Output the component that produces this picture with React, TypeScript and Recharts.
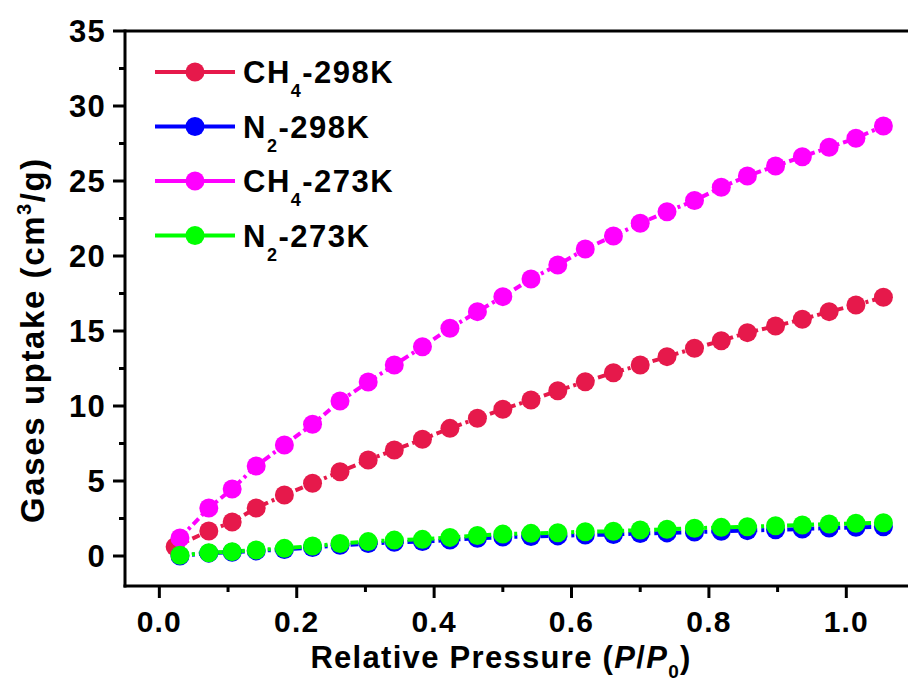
import React from 'react';
import { LineChart, Line, XAxis, YAxis, ReferenceLine, Legend } from 'recharts';

// Relative pressure (P/P0) for each point
const pressure = [0.030, 0.072, 0.106, 0.141, 0.182, 0.223, 0.263, 0.304, 0.342, 0.383, 0.423, 0.463, 0.500, 0.541, 0.580, 0.620, 0.661, 0.700, 0.739, 0.779, 0.818, 0.856, 0.897, 0.936, 0.975, 1.014, 1.054];
const pressureCH4_298 = [0.023, 0.072, 0.106, 0.141, 0.182, 0.223, 0.263, 0.304, 0.342, 0.383, 0.423, 0.463, 0.500, 0.541, 0.580, 0.620, 0.661, 0.700, 0.739, 0.779, 0.818, 0.856, 0.897, 0.936, 0.975, 1.014, 1.054];

// Uptake (cm3/g)
const ch4_298 = [0.62, 1.67, 2.27, 3.2, 4.07, 4.85, 5.62, 6.4, 7.07, 7.78, 8.51, 9.18, 9.78, 10.4, 11.02, 11.62, 12.22, 12.73, 13.29, 13.85, 14.35, 14.89, 15.33, 15.78, 16.29, 16.73, 17.25];
const n2_298 = [0.0, 0.19, 0.25, 0.34, 0.43, 0.57, 0.71, 0.83, 0.91, 0.96, 1.07, 1.18, 1.26, 1.3, 1.34, 1.4, 1.43, 1.5, 1.54, 1.6, 1.65, 1.69, 1.75, 1.8, 1.86, 1.91, 1.95];
const ch4_273 = [1.2, 3.2, 4.47, 6.0, 7.4, 8.78, 10.33, 11.6, 12.73, 13.95, 15.18, 16.29, 17.29, 18.47, 19.4, 20.47, 21.33, 22.18, 22.95, 23.7, 24.58, 25.33, 26.0, 26.62, 27.25, 27.85, 28.67];
const n2_273 = [0.05, 0.22, 0.29, 0.4, 0.51, 0.67, 0.83, 0.96, 1.06, 1.11, 1.24, 1.37, 1.46, 1.51, 1.55, 1.62, 1.65, 1.73, 1.78, 1.85, 1.91, 1.95, 2.02, 2.07, 2.13, 2.18, 2.22];

const xTicks = [0, 0.1, 0.2, 0.3, 0.4, 0.5, 0.6, 0.7, 0.8, 0.9, 1.0];
const yTicks = [0, 2.5, 5, 7.5, 10, 12.5, 15, 17.5, 20, 22.5, 25, 27.5, 30, 32.5, 35];

const seriesNames = ['CH4-298K', 'N2-298K', 'CH4-273K', 'N2-273K'];
const seriesColors = ['#E6194B', '#0000FF', '#FF00FF', '#00FF00'];

const build = (xs: number[], ys: number[]) => xs.map((p, i) => ({ p, v: ys[i] }));
const dataSets = [
  build(pressureCH4_298, ch4_298),
  build(pressure, n2_298),
  build(pressure, ch4_273),
  build(pressure, n2_273),
];

const FONT = '"Liberation Sans", Arial, sans-serif';

const XTick = (props: any) => {
  const { x, y, payload } = props;
  const v = payload.value as number;
  const major = Math.round(v * 10) % 2 === 0;
  return (
    <g>
      <line x1={x} x2={x} y1={y} y2={y + (major ? 12 : 6)} stroke="#000" strokeWidth={3} />
      {major && (
        <text x={x} y={y + 46} textAnchor="middle" fontFamily={FONT} fontWeight="bold" fontSize={30} letterSpacing={1.2} fill="#000">
          {v.toFixed(1)}
        </text>
      )}
    </g>
  );
};

const YTick = (props: any) => {
  const { x, y, payload } = props;
  const v = payload.value as number;
  const major = v % 5 === 0;
  return (
    <g>
      <line x1={x} x2={x - (major ? 12 : 6)} y1={y} y2={y} stroke="#000" strokeWidth={3} />
      {major && (
        <text x={x - 19} y={y} dy="0.36em" textAnchor="end" fontFamily={FONT} fontWeight="bold" fontSize={31} letterSpacing={1.2} fill="#000">
          {String(v)}
        </text>
      )}
    </g>
  );
};

const YTitle = () => (
  <text transform="translate(44,340) rotate(-90)" textAnchor="middle" fontFamily={FONT} fontWeight="bold" fontSize={33} letterSpacing={1.6} fill="#000">
    <tspan>Gases uptake (cm</tspan>
    <tspan dy={-13} fontSize={20}>3</tspan>
    <tspan dy={13}>/g)</tspan>
  </text>
);

const XTitle = () => (
  <text x={501} y={668} textAnchor="middle" fontFamily={FONT} fontWeight="bold" fontSize={31} letterSpacing={1.3} fill="#000">
    <tspan>Relative Pressure (</tspan>
    <tspan fontStyle="italic">P</tspan>
    <tspan>/</tspan>
    <tspan fontStyle="italic">P</tspan>
    <tspan dy={10} fontSize={19}>0</tspan>
    <tspan dy={-10}>)</tspan>
  </text>
);

const LegendLabel = ({ name, y }: { name: string; y: number }) => {
  const m = name.match(/^([A-Z]+)(\d)(-.*)$/);
  const base = m ? m[1] : name;
  const sub = m ? m[2] : '';
  const rest = m ? m[3] : '';
  return (
    <text x={98} y={y + 11} fontFamily={FONT} fontWeight="bold" fontSize={31} letterSpacing={1.5} fill="#000">
      <tspan>{base}</tspan>
      <tspan dy={14} fontSize={18}>{sub}</tspan>
      <tspan dy={-14}>{rest}</tspan>
    </text>
  );
};

const LegendContent = () => (
  <svg width={300} height={240} style={{ display: 'block' }}>
    {seriesNames.map((name, i) => {
      const cy = 32 + i * 54.5;
      return (
        <g key={name}>
          <line x1={10} x2={90} y1={cy} y2={cy} stroke={seriesColors[i]} strokeWidth={4} />
          <circle cx={50} cy={cy} r={9.5} fill={seriesColors[i]} />
          <LegendLabel name={name} y={cy} />
        </g>
      );
    })}
  </svg>
);

export default function App() {
  return (
    <div style={{ position: 'absolute', left: 0, top: 0, width: 908, height: 681, overflow: 'hidden', background: '#fff' }}>
      <LineChart width={918} height={681} margin={{ top: 31, right: 3, left: 0, bottom: 0 }}>
        <XAxis
          type="number"
          dataKey="p"
          domain={[-0.05, 1.1]}
          ticks={xTicks}
          interval={0}
          height={95}
          tickSize={0}
          tickMargin={0}
          tickLine={false}
          tick={<XTick />}
          axisLine={{ stroke: '#000', strokeWidth: 3, strokeLinecap: 'square' }}
          allowDataOverflow
          label={<XTitle />}
        />
        <YAxis
          type="number"
          domain={[-2, 35]}
          ticks={yTicks}
          interval={0}
          width={125}
          tickSize={0}
          tickMargin={0}
          tickLine={false}
          tick={<YTick />}
          axisLine={{ stroke: '#000', strokeWidth: 3, strokeLinecap: 'square' }}
          allowDataOverflow
          label={<YTitle />}
        />
        <ReferenceLine y={35} stroke="#000" strokeWidth={3} />
        <ReferenceLine x={1.1} stroke="#000" strokeWidth={3} />
        <Legend
          layout="vertical"
          align="center"
          verticalAlign="middle"
          content={<LegendContent />}
          wrapperStyle={{ position: 'absolute', left: 145, top: 40, width: 300, height: 240 }}
        />
        {dataSets.map((d, i) => (
          <Line
            key={seriesNames[i]}
            data={d}
            dataKey="v"
            name={seriesNames[i]}
            type="linear"
            stroke={seriesColors[i]}
            strokeWidth={4}
            strokeDasharray="8 4 3 4"
            dot={{ r: 9.5, fill: seriesColors[i], stroke: 'none' }}
            activeDot={false}
            isAnimationActive={false}
          />
        ))}
      </LineChart>
    </div>
  );
}
